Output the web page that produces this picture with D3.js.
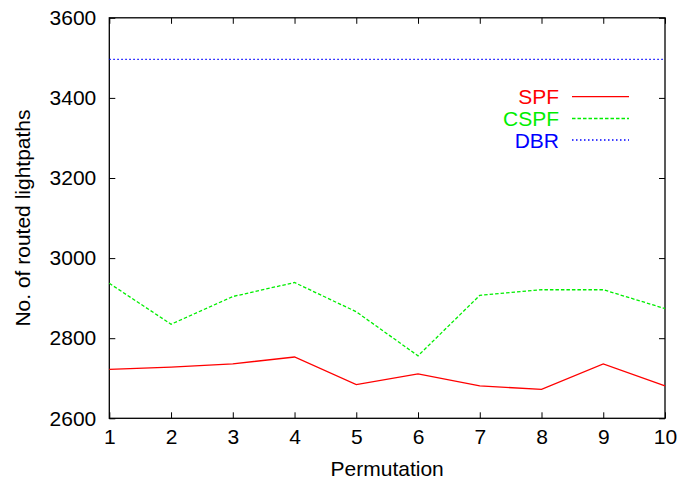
<!DOCTYPE html>
<html>
<head>
<meta charset="utf-8">
<script src="https://cdn.jsdelivr.net/npm/d3@7"></script>
<style>
  html, body { margin: 0; padding: 0; background: #fff; }
  svg { display: block; font-family: "Liberation Sans", Arial, Helvetica, sans-serif; }
</style>
</head>
<body>
<svg id="chart" width="697" height="482"></svg>
<script>
const permutations = [1, 2, 3, 4, 5, 6, 7, 8, 9, 10];
const spf  = [2722, 2728, 2736, 2753, 2684, 2711, 2681, 2672, 2736, 2681];
const cspf = [2937, 2835, 2904, 2939, 2866, 2756, 2907, 2921, 2921, 2874];
const dbr  = [3496, 3496, 3496, 3496, 3496, 3496, 3496, 3496, 3496, 3496];
const yTicks = [2600, 2800, 3000, 3200, 3400, 3600];
const seriesNames = ["SPF", "CSPF", "DBR"];

const svg = d3.select("#chart");
const mLeft = 109.3, mRight = 665, mTop = 17.8, mBottom = 418.3;

const x = d3.scaleLinear().domain([1, 10]).range([mLeft, mRight]);
const y = d3.scaleLinear().domain([2600, 3600]).range([mBottom, mTop]);

const fs = 21;
const tickLen = 6;

// frame
svg.append("rect")
  .attr("x", mLeft).attr("y", mTop)
  .attr("width", mRight - mLeft).attr("height", mBottom - mTop)
  .attr("fill", "none").attr("stroke", "#000").attr("stroke-width", 1.3);

// axes with inward ticks (mirrored)
const axB = d3.axisBottom(x).tickValues(permutations).tickSize(-tickLen).tickPadding(11).tickFormat(d3.format("d"));
const axT = d3.axisTop(x).tickValues(permutations).tickSize(-tickLen).tickFormat("");
const axL = d3.axisLeft(y).tickValues(yTicks).tickSize(-tickLen).tickPadding(13).tickFormat(d3.format("d"));
const axR = d3.axisRight(y).tickValues(yTicks).tickSize(-tickLen).tickFormat("");

function style(g) {
  g.select(".domain").remove();
  g.selectAll(".tick line").attr("stroke", "#000").attr("stroke-width", 1);
  g.selectAll(".tick text").attr("font-size", fs).attr("fill", "#000")
    .attr("font-family", "Liberation Sans, Arial, sans-serif");
}
svg.append("g").attr("transform", `translate(0,${mBottom})`).call(axB).call(style)
  .selectAll(".tick text").attr("dy", "0.71em");
svg.append("g").attr("transform", `translate(0,${mTop})`).call(axT).call(style);
svg.append("g").attr("transform", `translate(${mLeft},0)`).call(axL).call(style);
svg.append("g").attr("transform", `translate(${mRight},0)`).call(axR).call(style);

// lines
const series = [
  { name: seriesNames[0], values: spf,  color: "#ff0000", dash: null },
  { name: seriesNames[1], values: cspf, color: "#00ee00", dash: "3.5,2" },
  { name: seriesNames[2], values: dbr,  color: "#0000ff", dash: "1.5,2.5" }
];
const line = d3.line().x((d, i) => x(permutations[i])).y(d => y(d));
series.forEach(s => {
  svg.append("path")
    .datum(s.values)
    .attr("d", line)
    .attr("fill", "none")
    .attr("stroke", s.color)
    .attr("stroke-width", 1.3)
    .attr("stroke-dasharray", s.dash);
});

// legend
const legY = [96.7, 118.5, 140];
series.forEach((s, i) => {
  svg.append("text")
    .attr("x", 559).attr("y", legY[i])
    .attr("dy", "0.36em")
    .attr("text-anchor", "end")
    .attr("font-size", fs)
    .attr("fill", s.color)
    .text(s.name);
  svg.append("line")
    .attr("x1", 572).attr("x2", 629)
    .attr("y1", legY[i]).attr("y2", legY[i])
    .attr("stroke", s.color)
    .attr("stroke-width", 1.3)
    .attr("stroke-dasharray", s.dash);
});

// axis titles
svg.append("text")
  .attr("x", (mLeft + mRight) / 2).attr("y", 476)
  .attr("text-anchor", "middle")
  .attr("font-size", fs)
  .text("Permutation");
svg.append("text")
  .attr("transform", `translate(30,${(mTop + mBottom) / 2}) rotate(-90)`)
  .attr("text-anchor", "middle")
  .attr("font-size", fs)
  .text("No. of routed lightpaths");
</script>
</body>
</html>
